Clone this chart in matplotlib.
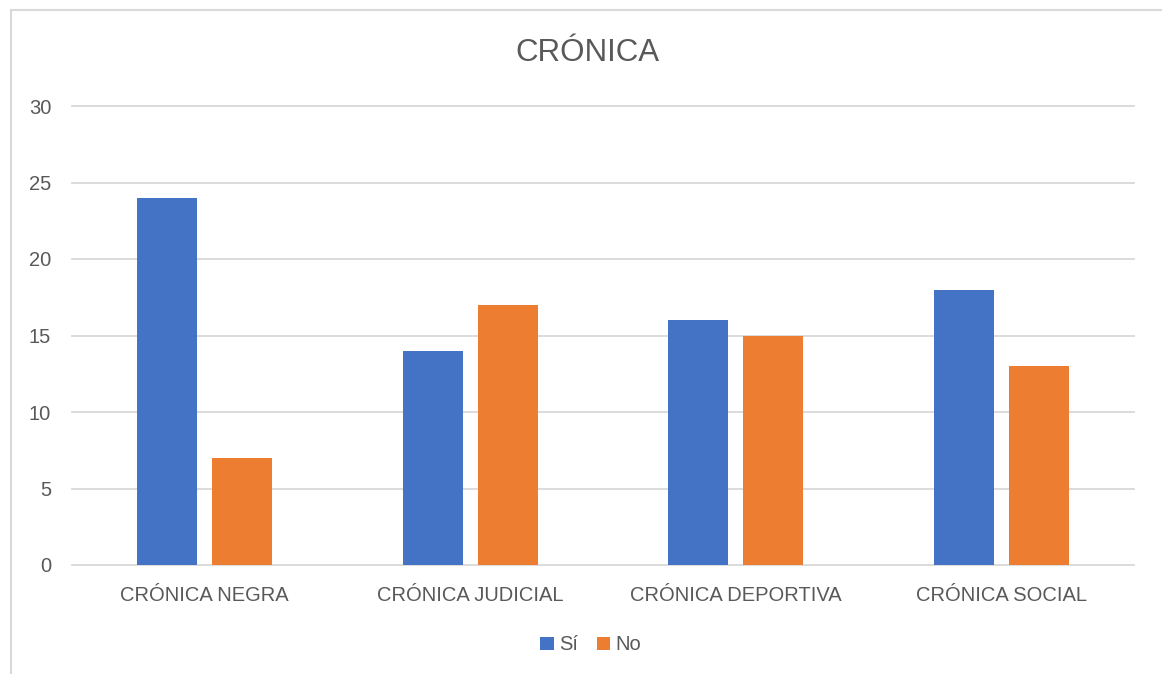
import matplotlib
matplotlib.use("Agg")
import matplotlib.pyplot as plt
import numpy as np
from matplotlib import font_manager
from matplotlib.patches import Rectangle

categories = ["CRÓNICA NEGRA", "CRÓNICA JUDICIAL", "CRÓNICA DEPORTIVA", "CRÓNICA SOCIAL"]
si_values = [24, 14, 16, 18]
no_values = [7, 17, 15, 13]
series_names = ["Sí", "No"]
yticks = [0, 5, 10, 15, 20, 25, 30]

names = {f.name for f in font_manager.fontManager.ttflist}
fam = ["Liberation Sans Narrow"] if "Liberation Sans Narrow" in names else ["Liberation Sans"]
plt.rcParams['font.family'] = fam + ["DejaVu Sans"]

W, H = 1162, 674
fig = plt.figure(figsize=(W / 100, H / 100), dpi=100)
ax = fig.add_axes([72 / W, (H - 565) / H, (1134 - 72) / W, (565 - 106) / H])

txt = "#595959"
blue = "#4472C4"
orange = "#ED7D31"

x = np.arange(len(categories))
w = 0.226
off = 0.142
ax.bar(x - off, si_values, w, color=blue, label=series_names[0], zorder=3)
ax.bar(x + off, no_values, w, color=orange, label=series_names[1], zorder=3)

ax.set_xlim(-0.5, len(categories) - 0.5)
ax.set_ylim(0, 30)
ax.set_yticks(yticks)
ax.set_xticks(x)
ax.set_xticklabels(categories)
ax.tick_params(axis='both', length=0, labelsize=14.5, colors=txt)
ax.tick_params(axis='y', pad=15)
ax.tick_params(axis='x', pad=15)
ax.yaxis.grid(True, color="#d9d9d9", lw=1.3, zorder=0)
ax.xaxis.grid(False)
for s in ax.spines.values():
    s.set_visible(False)
for gl in ax.get_ygridlines():
    gl.set_clip_on(False)

fig.text(587 / W, 1 - 53 / H, "CRÓNICA", ha="center", va="center", fontsize=22.5, color=txt)

leg = fig.legend(loc="center", bbox_to_anchor=(591 / W, 1 - 645 / H), ncol=2, frameon=False,
                 fontsize=14.5, labelcolor=txt, handlelength=0.65, handleheight=0.65,
                 handletextpad=0.3, columnspacing=0.9)

fig.patches.append(Rectangle((11 / W, -0.1), 1.2, 1 - 10 / H + 0.1, transform=fig.transFigure,
                             fill=False, edgecolor="#d9d9d9", lw=1.5))

fig.savefig("out.png", dpi=100, facecolor="white")
